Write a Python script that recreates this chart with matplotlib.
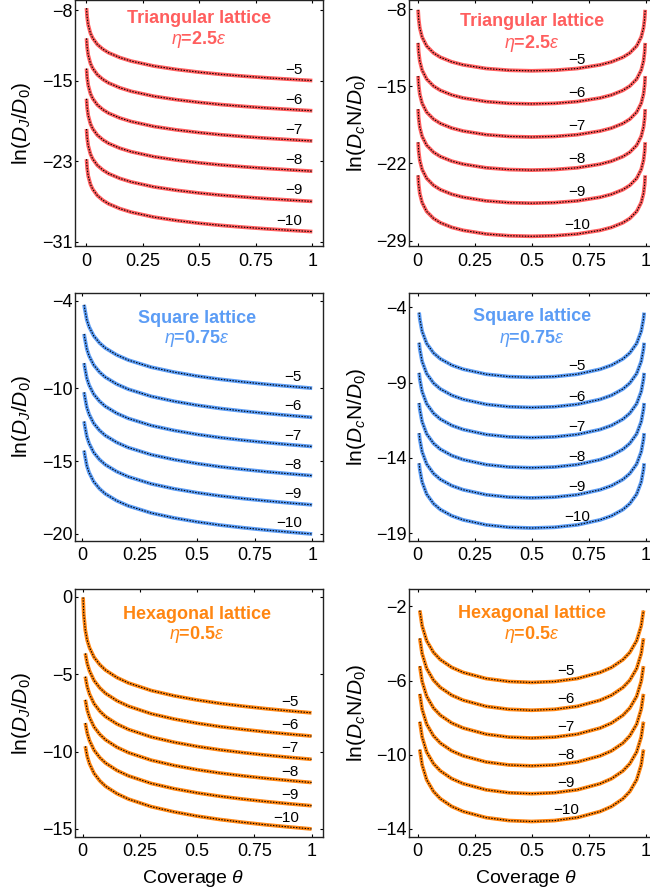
import numpy as np
import matplotlib
matplotlib.use("Agg")
import matplotlib.pyplot as plt
from matplotlib.transforms import blended_transform_factory

plt.rcParams['font.family'] = ['Liberation Sans', 'DejaVu Sans']
plt.rcParams['mathtext.fontset'] = 'custom'
plt.rcParams['mathtext.rm'] = 'Liberation Sans'
plt.rcParams['mathtext.it'] = 'Liberation Sans:italic'
plt.rcParams['mathtext.bf'] = 'Liberation Sans:bold'

nan = float('nan')

curve_labels = ["\u22125", "\u22126", "\u22127", "\u22128", "\u22129", "\u221210"]
x_ticks = [0, 0.25, 0.5, 0.75, 1]
x_tick_labels = ["0", "0.25", "0.5", "0.75", "1"]

# ---------------- Triangular lattice ----------------
theta_tri_J = [0.0025, 0.005, 0.01, 0.02, 0.03, 0.05, 0.075, 0.1, 0.15, 0.2,
               0.3, 0.4, 0.5, 0.6, 0.7, 0.8, 0.9, 1.0]
lnDJ_tri = [
    [-7.81, -8.64, -9.47, -10.31, -10.79, -11.41, -11.89, -12.24, -12.72, -13.07, -13.56, -13.90, -14.17, -14.39, -14.57, -14.73, -14.87, -15.00],
    [-10.81, -11.64, -12.47, -13.31, -13.79, -14.41, -14.89, -15.24, -15.72, -16.07, -16.56, -16.90, -17.17, -17.39, -17.57, -17.73, -17.87, -18.00],
    [-13.81, -14.64, -15.47, -16.31, -16.79, -17.41, -17.89, -18.24, -18.72, -19.07, -19.56, -19.90, -20.17, -20.39, -20.57, -20.73, -20.87, -21.00],
    [-16.81, -17.64, -18.47, -19.31, -19.79, -20.41, -20.89, -21.24, -21.72, -22.07, -22.56, -22.90, -23.17, -23.39, -23.57, -23.73, -23.87, -24.00],
    [-19.81, -20.64, -21.47, -22.31, -22.79, -23.41, -23.89, -24.24, -24.72, -25.07, -25.56, -25.90, -26.17, -26.39, -26.57, -26.73, -26.87, -27.00],
    [-22.81, -23.64, -24.47, -25.31, -25.79, -26.41, -26.89, -27.24, -27.72, -28.07, -28.56, -28.90, -29.17, -29.39, -29.57, -29.73, -29.87, -30.00],
]
theta_tri_c = [0.0025, 0.005, 0.01, 0.02, 0.04, 0.07, 0.1, 0.15, 0.2, 0.3, 0.4, 0.5,
               0.6, 0.7, 0.8, 0.85, 0.9, 0.93, 0.96, 0.98, 0.99, 0.995, 0.9975]
lnDcN_tri = [
    [-8.07, -8.90, -9.72, -10.54, -11.35, -11.98, -12.37, -12.79, -13.06, -13.39, -13.55, -13.60, -13.55, -13.39, -13.06, -12.79, -12.37, -11.98, -11.35, -10.54, -9.72, -8.90, -8.07],
    [-11.07, -11.90, -12.72, -13.54, -14.35, -14.98, -15.37, -15.79, -16.06, -16.39, -16.55, -16.60, -16.55, -16.39, -16.06, -15.79, -15.37, -14.98, -14.35, -13.54, -12.72, -11.90, -11.07],
    [-14.07, -14.90, -15.72, -16.54, -17.35, -17.98, -18.37, -18.79, -19.06, -19.39, -19.55, -19.60, -19.55, -19.39, -19.06, -18.79, -18.37, -17.98, -17.35, -16.54, -15.72, -14.90, -14.07],
    [-17.07, -17.90, -18.72, -19.54, -20.35, -20.98, -21.37, -21.79, -22.06, -22.39, -22.55, -22.60, -22.55, -22.39, -22.06, -21.79, -21.37, -20.98, -20.35, -19.54, -18.72, -17.90, -17.07],
    [-20.07, -20.90, -21.72, -22.54, -23.35, -23.98, -24.37, -24.79, -25.06, -25.39, -25.55, -25.60, -25.55, -25.39, -25.06, -24.79, -24.37, -23.98, -23.35, -22.54, -21.72, -20.90, -20.07],
    [-23.07, -23.90, -24.72, -25.54, -26.35, -26.98, -27.37, -27.79, -28.06, -28.39, -28.55, -28.60, -28.55, -28.39, -28.06, -27.79, -27.37, -26.98, -26.35, -25.54, -24.72, -23.90, -23.07],
]

# ---------------- Square lattice ----------------
theta_sq_J = [0.0085, 0.01, 0.02, 0.03, 0.05, 0.075, 0.1, 0.15, 0.2, 0.3, 0.4, 0.5,
              0.6, 0.7, 0.8, 0.9, 1.0]
lnDJ_sq = [
    [-4.28, -4.47, -5.31, -5.79, -6.41, -6.89, -7.24, -7.72, -8.07, -8.56, -8.90, -9.17, -9.39, -9.57, -9.73, -9.87, -10.00],
    [-6.28, -6.47, -7.31, -7.79, -8.41, -8.89, -9.24, -9.72, -10.07, -10.56, -10.90, -11.17, -11.39, -11.57, -11.73, -11.87, -12.00],
    [-8.28, -8.47, -9.31, -9.79, -10.41, -10.89, -11.24, -11.72, -12.07, -12.56, -12.90, -13.17, -13.39, -13.57, -13.73, -13.87, -14.00],
    [-10.28, -10.47, -11.31, -11.79, -12.41, -12.89, -13.24, -13.72, -14.07, -14.56, -14.90, -15.17, -15.39, -15.57, -15.73, -15.87, -16.00],
    [-12.28, -12.47, -13.31, -13.79, -14.41, -14.89, -15.24, -15.72, -16.07, -16.56, -16.90, -17.17, -17.39, -17.57, -17.73, -17.87, -18.00],
    [-14.28, -14.47, -15.31, -15.79, -16.41, -16.89, -17.24, -17.72, -18.07, -18.56, -18.90, -19.17, -19.39, -19.57, -19.73, -19.87, -20.00],
]
theta_sq_c = [0.007, 0.01, 0.02, 0.04, 0.07, 0.1, 0.15, 0.2, 0.3, 0.4, 0.5,
              0.6, 0.7, 0.8, 0.85, 0.9, 0.93, 0.96, 0.98, 0.99, 0.993]
lnDcN_sq = [
    [-4.35, -4.77, -5.59, -6.40, -7.03, -7.42, -7.84, -8.11, -8.44, -8.60, -8.65, -8.60, -8.44, -8.11, -7.84, -7.42, -7.03, -6.40, -5.59, -4.77, -4.35],
    [-6.35, -6.77, -7.59, -8.40, -9.03, -9.42, -9.84, -10.11, -10.44, -10.60, -10.65, -10.60, -10.44, -10.11, -9.84, -9.42, -9.03, -8.40, -7.59, -6.77, -6.35],
    [-8.35, -8.77, -9.59, -10.40, -11.03, -11.42, -11.84, -12.11, -12.44, -12.60, -12.65, -12.60, -12.44, -12.11, -11.84, -11.42, -11.03, -10.40, -9.59, -8.77, -8.35],
    [-10.35, -10.77, -11.59, -12.40, -13.03, -13.42, -13.84, -14.11, -14.44, -14.60, -14.65, -14.60, -14.44, -14.11, -13.84, -13.42, -13.03, -12.40, -11.59, -10.77, -10.35],
    [-12.35, -12.77, -13.59, -14.40, -15.03, -15.42, -15.84, -16.11, -16.44, -16.60, -16.65, -16.60, -16.44, -16.11, -15.84, -15.42, -15.03, -14.40, -13.59, -12.77, -12.35],
    [-14.35, -14.77, -15.59, -16.40, -17.03, -17.42, -17.84, -18.11, -18.44, -18.60, -18.65, -18.60, -18.44, -18.11, -17.84, -17.42, -17.03, -16.40, -15.59, -14.77, -14.35],
]

# ---------------- Hexagonal lattice ----------------
theta_hex_J = [0.002, 0.005, 0.0117, 0.02, 0.03, 0.05, 0.075, 0.1, 0.15, 0.2, 0.3,
               0.4, 0.5, 0.6, 0.7, 0.8, 0.9, 1.0]
lnDJ_hex = [
    [-0.04, -1.14, -2.16, -2.81, -3.29, -3.91, -4.39, -4.74, -5.22, -5.57, -6.06, -6.40, -6.67, -6.89, -7.07, -7.23, -7.37, -7.50],
    [nan, nan, -3.66, -4.31, -4.79, -5.41, -5.89, -6.24, -6.72, -7.07, -7.56, -7.90, -8.17, -8.39, -8.57, -8.73, -8.87, -9.00],
    [nan, nan, -5.16, -5.81, -6.29, -6.91, -7.39, -7.74, -8.22, -8.57, -9.06, -9.40, -9.67, -9.89, -10.07, -10.23, -10.37, -10.50],
    [nan, nan, -6.66, -7.31, -7.79, -8.41, -8.89, -9.24, -9.72, -10.07, -10.56, -10.90, -11.17, -11.39, -11.57, -11.73, -11.87, -12.00],
    [nan, nan, -8.16, -8.81, -9.29, -9.91, -10.39, -10.74, -11.22, -11.57, -12.06, -12.40, -12.67, -12.89, -13.07, -13.23, -13.37, -13.50],
    [nan, nan, -9.66, -10.31, -10.79, -11.41, -11.89, -12.24, -12.72, -13.07, -13.56, -13.90, -14.17, -14.39, -14.57, -14.73, -14.87, -15.00],
]
theta_hex_c = [0.01, 0.02, 0.04, 0.07, 0.1, 0.15, 0.2, 0.3, 0.4, 0.5, 0.6, 0.7, 0.8,
               0.85, 0.9, 0.93, 0.96, 0.98, 0.99]
lnDcN_hex = [
    [-2.22, -3.04, -3.85, -4.48, -4.87, -5.29, -5.56, -5.89, -6.05, -6.10, -6.05, -5.89, -5.56, -5.29, -4.87, -4.48, -3.85, -3.04, -2.22],
    [-3.72, -4.54, -5.35, -5.98, -6.37, -6.79, -7.06, -7.39, -7.55, -7.60, -7.55, -7.39, -7.06, -6.79, -6.37, -5.98, -5.35, -4.54, -3.72],
    [-5.22, -6.04, -6.85, -7.48, -7.87, -8.29, -8.56, -8.89, -9.05, -9.10, -9.05, -8.89, -8.56, -8.29, -7.87, -7.48, -6.85, -6.04, -5.22],
    [-6.72, -7.54, -8.35, -8.98, -9.37, -9.79, -10.06, -10.39, -10.55, -10.60, -10.55, -10.39, -10.06, -9.79, -9.37, -8.98, -8.35, -7.54, -6.72],
    [-8.22, -9.04, -9.85, -10.48, -10.87, -11.29, -11.56, -11.89, -12.05, -12.10, -12.05, -11.89, -11.56, -11.29, -10.87, -10.48, -9.85, -9.04, -8.22],
    [-9.72, -10.54, -11.35, -11.98, -12.37, -12.79, -13.06, -13.39, -13.55, -13.60, -13.55, -13.39, -13.06, -12.79, -12.37, -11.98, -11.35, -10.54, -9.72],
]

yticks_tri_J = [-8, -15, -23, -31]
yticks_tri_c = [-8, -15, -22, -29]
yticks_sq_J = [-4, -10, -15, -20]
yticks_sq_c = [-4, -9, -14, -19]
yticks_hex_J = [0, -5, -10, -15]
yticks_hex_c = [-2, -6, -10, -14]

lattice_names = ["Triangular lattice", "Square lattice", "Hexagonal lattice"]
eta_values = ["2.5", "0.75", "0.5"]
colors = ["#FF5E5E", "#5B9CF5", "#FF8612"]

ylabel_J = r"$\mathrm{ln}(D_J/D_0)$"
ylabel_c = r"$\mathrm{ln}(D_c\mathrm{N}/D_0)$"

# ---------------- layout (pixels) ----------------
W, H = 650, 896
fig = plt.figure(figsize=(W / 100, H / 100), dpi=100)


def px_axes(x0, y0, x1, y1):
    return fig.add_axes([x0 / W, 1 - y1 / H, (x1 - x0) / W, (y1 - y0) / H])


rows_y = [(0.0, 246.0), (292.7, 540.7), (589.0, 836.7)]
left_x = (75.3, 323.0)
right_x = (409.3, 654.0)

panels = [
    # row, col, theta, data, yticks, xlim, ylim, title dy, eta dy, label theta, kind
    (0, 0, theta_tri_J, lnDJ_tri, yticks_tri_J, (-0.047, 1.047), (-31.43, -7.0), 18.3, 40.0, 0.955, "J"),
    (0, 1, theta_tri_c, lnDcN_tri, yticks_tri_c, (-0.036, 1.036), (-29.48, -7.18), 21.7, 43.3, 0.70, "c"),
    (1, 0, theta_sq_J, lnDJ_sq, yticks_sq_J, (-0.030, 1.047), (-20.46, -3.45), 25.6, 45.6, 0.955, "J"),
    (1, 1, theta_sq_c, lnDcN_sq, yticks_sq_c, (-0.036, 1.036), (-19.49, -3.03), 24.0, 45.6, 0.70, "c"),
    (2, 0, theta_hex_J, lnDJ_hex, yticks_hex_J, (-0.032, 1.050), (-15.5, 0.5), 25.0, 45.3, 0.945, "J"),
    (2, 1, theta_hex_c, lnDcN_hex, yticks_hex_c, (-0.036, 1.036), (-14.42, -1.06), 24.3, 45.3, 0.65, "c"),
]

PT = 0.72  # points per pixel at 100 dpi

for (row, col, theta, data, yticks, xlim, ylim, tdy, edy, lab_x, kind) in panels:
    y0, y1 = rows_y[row]
    x0, x1 = left_x if col == 0 else right_x
    ax = px_axes(x0, y0, x1, y1)
    color = colors[row]
    th = np.array(theta)
    for k, vals in enumerate(data):
        v = np.array(vals, dtype=float)
        ax.plot(th, v, color=color, lw=2.7, solid_capstyle='butt', zorder=2)
        ax.plot(th, v, color='black', lw=0.8, dashes=(1.3, 1.3), zorder=3)
        if kind == "J":
            yref = v[-1]
            ha = 'right'
        else:
            yref = np.nanmin(v)
            ha = 'center'
        ax.annotate(curve_labels[k], xy=(lab_x, yref), xytext=(0, 11 * PT),
                    textcoords='offset points', ha=ha, va='center',
                    fontsize=11, color='black', zorder=4)
    ax.set_xlim(*xlim)
    ax.set_ylim(*ylim)
    ax.set_xticks(x_ticks)
    ax.set_xticklabels(x_tick_labels)
    ax.set_yticks(yticks)
    ax.set_yticklabels([f"{t}".replace("-", "\u2212") for t in yticks])
    ax.tick_params(direction='in', top=True, right=True, length=3.3 * PT,
                   width=0.8, labelsize=13, color='black')
    ax.tick_params(axis='y', pad=3.0 * PT)
    ax.tick_params(axis='x', pad=6.5 * PT)
    for s in ax.spines.values():
        s.set_linewidth(1.0)
        s.set_color('#222222')

    tr = blended_transform_factory(ax.transData, ax.transAxes)
    ax.annotate(lattice_names[row], xy=(0.5, 1.0), xycoords=tr,
                xytext=(0, -tdy * PT), textcoords='offset points',
                ha='center', va='center', fontsize=13, fontweight='bold',
                color=color)
    ax.annotate(r"$\eta$=" + eta_values[row] + r"$\varepsilon$", xy=(0.5, 1.0),
                xycoords=tr, xytext=(0, -edy * PT), textcoords='offset points',
                ha='center', va='center', fontsize=13, fontweight='bold',
                color=color)

    # y label
    ylab_x = 21.7 if col == 0 else 356.7
    fig.text(ylab_x / W, 1 - (y0 + y1) / 2 / H, ylabel_J if kind == "J" else ylabel_c,
             rotation=90, ha='center', va='center', fontsize=15)

# x labels
for cx in (193.0, 526.0):
    fig.text(cx / W, 1 - 878.0 / H, r"Coverage $\theta$", ha='center', va='center',
             fontsize=14)

fig.savefig("out.png", dpi=100)
